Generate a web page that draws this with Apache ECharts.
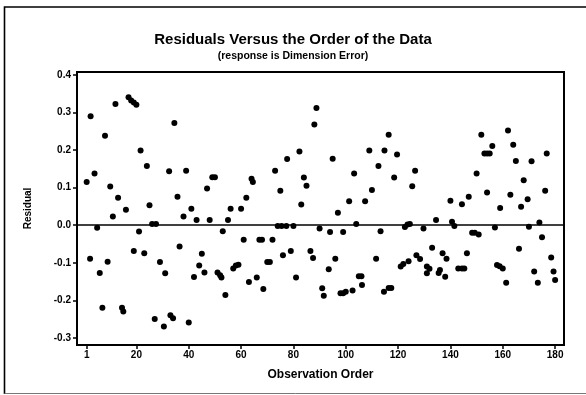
<!DOCTYPE html>
<html>
<head>
<meta charset="utf-8">
<script src="https://cdn.jsdelivr.net/npm/echarts@6/dist/echarts.min.js"></script>
<style>html,body{margin:0;padding:0;background:#fff}#c{width:586px;height:395px}</style>
</head>
<body>
<div id="c"></div>
<script>
// Observation order (x) and residual (y)
const obsOrder = [1,2.5,2.3,4,5,6,7,8,9,10,11,12,13,14.5,15,16,17,18,19,20,19,21,21.6,23,24,25,26,27.5,27,29,30.5,31,32.5,33,34,34.5,35.7,36.5,38,39,40,41,42,43,44,45,46,47,48,49,50,51,52,52.5,53,54,55,56,57,58,59,60,61,62,63,64,64.5,66,67,68,68.5,70,71,72,73,74,75.5,77.3,75,76,77.6,79,80,81,82.3,83,84,85,86.5,87.5,88,88.8,90,91,91.6,93.5,94,95,96,97,98,99,100,102.6,99,101.3,103.2,104,105,106,106.2,107.4,109,110,111.6,112.5,113.3,114.6,116.4,117.4,114.8,116.4,118.5,119.6,121,122,124,122.6,123.6,124.5,125.4,126.5,127,128.4,129.7,131,131,133,132,135.5,134.5,136,138,137,138.5,140,140.6,141.5,143,144.4,145.3,144.4,146.3,147,148.3,149.3,150.8,150,151.8,153,154,155,154,156,157,157.8,158.8,160,159,161.3,162,162.9,164,165,166.2,167,168,169.5,170,171,172,173.4,174,175,176.2,176.8,178.5,179.4,180];
const residuals = [0.115,0.29,-0.089,0.138,-0.007,-0.127,-0.22,0.238,-0.097,0.103,0.023,0.323,0.073,-0.22,-0.23,0.041,0.341,0.332,0.327,0.321,-0.069,-0.017,0.199,-0.075,0.158,0.053,0.003,0.003,-0.25,-0.098,-0.27,-0.128,0.144,-0.24,-0.248,0.272,0.076,-0.057,0.023,0.145,-0.259,0.044,-0.138,0.014,-0.107,-0.076,-0.126,0.098,0.014,0.128,0.128,-0.126,-0.133,-0.139,-0.016,-0.186,0.014,0.044,-0.115,-0.107,-0.105,0.044,-0.039,0.073,-0.151,0.124,0.115,-0.139,-0.039,-0.039,-0.17,-0.098,-0.098,-0.039,0.145,-0.002,-0.002,-0.002,0.092,-0.08,0.176,-0.069,-0.002,-0.139,0.196,0.055,0.127,0.105,-0.069,-0.087,0.268,0.312,-0.009,-0.168,-0.188,-0.117,-0.018,0.177,-0.089,0.033,-0.181,-0.181,-0.177,-0.174,-0.018,0.064,0.138,0.003,-0.136,-0.136,-0.159,0.064,0.199,0.094,-0.089,0.158,-0.016,-0.177,-0.167,-0.167,0.199,0.241,0.127,0.188,-0.11,-0.103,-0.096,-0.005,0.002,0.003,0.104,0.145,-0.08,-0.09,-0.009,-0.11,-0.128,-0.06,-0.116,-0.127,0.014,-0.119,-0.137,-0.075,-0.089,0.065,0.009,-0.002,-0.115,-0.115,-0.115,0.056,-0.075,0.076,-0.02,-0.02,-0.025,0.138,0.241,0.191,0.191,0.191,0.087,0.211,-0.006,-0.106,-0.109,-0.115,0.046,-0.153,0.252,0.081,0.214,0.171,-0.063,0.049,0.12,0.069,-0.004,0.17,-0.123,-0.153,0.007,-0.032,0.092,0.191,-0.086,-0.123,-0.146];
const xTicks = [1,20,40,60,80,100,120,140,160,180];
const yTicks = [-0.3,-0.2,-0.1,0.0,0.1,0.2,0.3,0.4];

const FONT = "'Liberation Sans', Arial, sans-serif";
const points = obsOrder.map((x, i) => [x, residuals[i]]);

const chart = echarts.init(document.getElementById('c'), null, {renderer: 'canvas'});
chart.setOption({
  animation: false,
  backgroundColor: '#fff',
  title: [
    {text: 'Residuals Versus the Order of the Data', left: 'center', top: 27,
     textStyle: {fontFamily: FONT, fontWeight: 900, fontSize: 15, color: '#000'}},
    {text: '(response is Dimension Error)', left: 'center', top: 46,
     textStyle: {fontFamily: FONT, fontWeight: 900, fontSize: 10.5, color: '#000'}}
  ],
  graphic: [
    {type: 'polyline', shape: {points: [[586, 7], [4.5, 7], [4.5, 394]]},
     style: {fill: 'none', stroke: '#000', lineWidth: 1.6}, silent: true},
    {type: 'line', shape: {x1: 4.5, y1: 393.5, x2: 586, y2: 393.5},
     style: {stroke: '#777', lineWidth: 1}, silent: true}
  ],
  grid: {left: 77, right: 22, top: 72, bottom: 50, show: true, borderColor: '#000', borderWidth: 2, backgroundColor: 'transparent'},
  xAxis: {
    type: 'value', min: -2.7, max: 183.4,
    name: 'Observation Order', nameLocation: 'middle', nameGap: 24,
    nameTextStyle: {fontFamily: FONT, fontWeight: 900, fontSize: 12, color: '#000'},
    axisLine: {show: true, onZero: false, lineStyle: {color: '#000', width: 2}},
    axisTick: {show: true, length: 4, customValues: xTicks, lineStyle: {color: '#000', width: 1.5}},
    axisLabel: {customValues: xTicks, fontFamily: FONT, fontWeight: 900, fontSize: 10, color: '#000', margin: 5},
    splitLine: {show: false}
  },
  yAxis: {
    type: 'value', min: -0.319, max: 0.408,
    name: 'Residual', nameLocation: 'middle', nameGap: 44, nameRotate: 90,
    nameTextStyle: {fontFamily: FONT, fontWeight: 900, fontSize: 10, color: '#000'},
    axisLine: {show: true, onZero: false, lineStyle: {color: '#000', width: 2}},
    axisTick: {show: true, length: 4, customValues: yTicks, lineStyle: {color: '#000', width: 1.5}},
    axisLabel: {customValues: yTicks, formatter: v => Number(v).toFixed(1),
      fontFamily: FONT, fontWeight: 900, fontSize: 10, color: '#000', margin: 6},
    splitLine: {show: false}
  },
  series: [{
    type: 'scatter', data: points, symbol: 'circle', symbolSize: 6,
    itemStyle: {color: '#000', opacity: 1},
    markLine: {silent: true, symbol: 'none', label: {show: false},
      lineStyle: {color: '#000', width: 1.5, type: 'solid'}, data: [{yAxis: 0}]}
  }]
});
</script>
</body>
</html>
